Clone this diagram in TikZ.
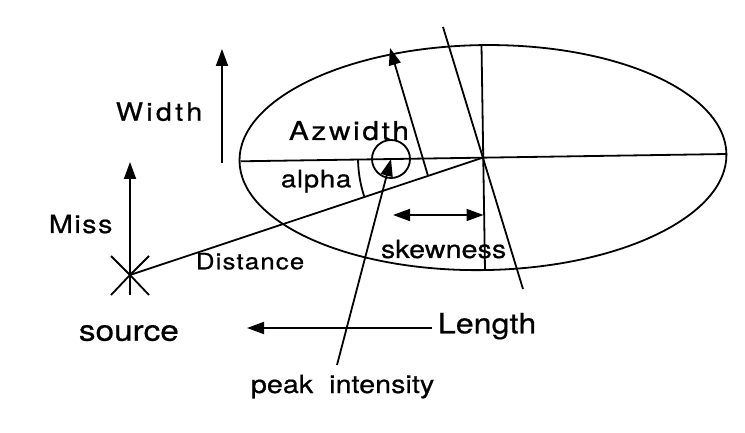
\documentclass[tikz,border=0pt]{standalone}
\usepackage{fontspec}
\setmainfont{TeX Gyre Heros}
\newfontfamily\labfont[FakeStretch=1.15,FakeBold=0.6]{TeX Gyre Heros}
\usetikzlibrary{arrows.meta}
\tikzset{
  lab/.style n args={2}{font=\labfont\fontsize{#1pt}{#1pt}\selectfont\addfontfeatures{LetterSpace=#2}, inner sep=0pt, anchor=base west},
  arr/.style={-{Triangle[length=17pt,width=12pt]}},
  darr/.style={{Triangle[length=17pt,width=12pt]}-{Triangle[length=17pt,width=12pt]}}
}
\begin{document}
\begin{tikzpicture}[x=1pt,y=-1pt,line width=1.8pt]
\useasboundingbox[fill=white] (0,0) rectangle (745,433);
% key points
\coordinate (C) at (483,157.6);
\coordinate (S) at (130,275);
\coordinate (L) at (240.5,161.3);
\coordinate (R) at (727,154);
\coordinate (T) at (481.5,45);
\coordinate (B) at (485,270);
\coordinate (U) at (443,27);
\coordinate (D) at (523,289);
% ellipse and axes
\draw[rotate around={0.82:(C)}] (C) ellipse [x radius=243.5, y radius=112.5];
\draw (L) -- (R);
\draw (T) -- (B);
\draw (U) -- (D);
% distance line
\draw (S) -- (C);
% source star
\draw (S) -- ++(-19,-19);
\draw (S) -- ++(19,-19);
\draw (S) -- ++(-19,20);
\draw (S) -- ++(19,20);
\draw (S) -- ++(0,20);
% Miss arrow
\coordinate (mt) at (130,162);
\draw[arr] (S) -- (mt);
% Width arrow
\coordinate (wb) at (222,163);
\coordinate (wt) at (222,49);
\draw[arr] (wb) -- (wt);
% Azwidth arrow
\coordinate (ab) at (428,175.8);
\coordinate (at) at (390,48);
\draw[arr] (ab) -- (at);
% peak circle and arrow
\node[circle,draw,minimum size=38pt,inner sep=0pt] (pk) at (391,159) {};
\coordinate (pb) at (337,365);
\draw[arr] (pb) -- (pk.center);
% alpha arc
\draw ([shift={(179.1:125)}]C) arc[start angle=179.1,end angle=161.6,radius=125];
% skewness
\coordinate (sl) at (393,215);
\coordinate (sr) at (483.5,215);
\draw[darr] (sl) -- (sr);
% length arrow
\coordinate (lr) at (432,328);
\coordinate (ll) at (247,328);
\draw[arr] (lr) -- (ll);
% labels
\node[lab={25}{13}] (tw) at (115,120.7) {Width};
\node[lab={25}{6}] (tm) at (48,233) {Miss};
\node[lab={26}{10}] (taz) at (288,140) {Azwidth};
\node[lab={24}{3}] (tal) at (280,187.3) {alpha};
\node[lab={22.5}{5}] (td) at (195,269.3) {Distance};
\node[lab={29}{0}] (ts) at (78,340.7) {source};
\node[lab={28}{0}] (tl) at (437,333.3) {Length};
\node[lab={25}{0}] (tp) at (250,393) {peak\ \ intensity};
\node[lab={25}{0}] (tsk) at (380,258) {skewness};
\end{tikzpicture}
\end{document}
